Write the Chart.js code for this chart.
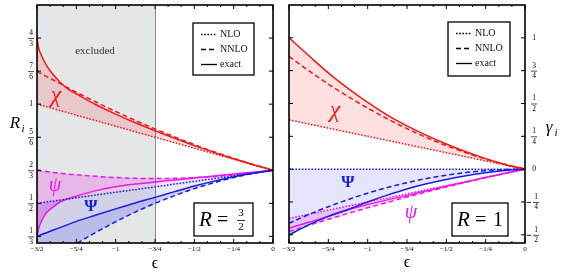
<!DOCTYPE html>
<html>
<head>
<meta charset="utf-8">
<script src="https://cdn.jsdelivr.net/npm/chart.js@4.4.0/dist/chart.umd.min.js"></script>
<style>
  html, body { margin: 0; padding: 0; background: #fff; }
  #wrap { position: relative; width: 569px; height: 278px; }
  canvas { position: absolute; top: 0; }
  #left { left: 0; }
  #right { left: 281px; }
</style>
</head>
<body>
<div id="wrap">
  <canvas id="left" width="281" height="278"></canvas>
  <canvas id="right" width="288" height="278"></canvas>
</div>
<script>
// ---------- DATA: LEFT PANEL (R = 3/2), ratios R_i ----------
const epsL = [-1.5, -1.49, -1.47, -1.44, -1.4, -1.35, -1.3, -1.25, -1.125, -1, -0.875, -0.75, -0.625, -0.5, -0.375, -0.25, -0.125, 0];

const chiNloL = [1.0, 0.998, 0.993, 0.987, 0.978, 0.967, 0.956, 0.944, 0.917, 0.889, 0.861, 0.833, 0.806, 0.778, 0.75, 0.722, 0.694, 0.667];
const chiNnloL = [1.167, 1.162, 1.153, 1.14, 1.123, 1.102, 1.081, 1.06, 1.011, 0.963, 0.918, 0.875, 0.835, 0.796, 0.76, 0.727, 0.696, 0.667];
const chiExactL = [1.333, 1.285, 1.243, 1.195, 1.152, 1.108, 1.075, 1.052, 0.997, 0.95, 0.906, 0.866, 0.828, 0.791, 0.757, 0.725, 0.695, 0.667];

// NLO of psi and Psi coincide here (blue dotted)
const PsiNloL = [0.5, 0.501, 0.503, 0.507, 0.511, 0.517, 0.522, 0.528, 0.542, 0.556, 0.569, 0.583, 0.597, 0.611, 0.625, 0.639, 0.653, 0.667];
const PsiNnloL = [0.167, 0.172, 0.183, 0.2, 0.221, 0.247, 0.272, 0.296, 0.354, 0.407, 0.456, 0.5, 0.539, 0.574, 0.604, 0.63, 0.651, 0.667];
const PsiExactL = [0.333, 0.336, 0.343, 0.352, 0.364, 0.379, 0.394, 0.409, 0.441, 0.472, 0.502, 0.53, 0.559, 0.587, 0.612, 0.634, 0.652, 0.667];

const psiNnloL = [0.667, 0.666, 0.663, 0.66, 0.656, 0.652, 0.647, 0.644, 0.636, 0.63, 0.626, 0.625, 0.626, 0.63, 0.635, 0.644, 0.654, 0.667];
const psiExactL = [0.333, 0.372, 0.413, 0.452, 0.48, 0.508, 0.524, 0.536, 0.564, 0.584, 0.597, 0.608, 0.618, 0.628, 0.638, 0.648, 0.657, 0.667];

// ---------- DATA: RIGHT PANEL (R = 1), anomalous dimensions gamma_i ----------
const epsR = [-1.5, -1.375, -1.25, -1.125, -1, -0.875, -0.75, -0.625, -0.5, -0.375, -0.25, -0.125, 0];

const chiNloR = [0.375, 0.344, 0.3125, 0.281, 0.25, 0.219, 0.1875, 0.156, 0.125, 0.094, 0.0625, 0.031, 0];
const chiNnloR = [0.858, 0.75, 0.648, 0.553, 0.465, 0.383, 0.308, 0.24, 0.179, 0.124, 0.076, 0.035, 0];
const chiExactR = [1.0, 0.865, 0.733, 0.615, 0.508, 0.412, 0.33, 0.257, 0.191, 0.132, 0.08, 0.036, 0];

const PsiNloR = [0, 0, 0, 0, 0, 0, 0, 0, 0, 0, 0, 0, 0];
const PsiNnloR = [-0.412, -0.346, -0.286, -0.232, -0.183, -0.14, -0.103, -0.0715, -0.046, -0.026, -0.0114, -0.003, 0];
const PsiExactR = [-0.5, -0.425, -0.36, -0.307, -0.25, -0.198, -0.151, -0.112, -0.079, -0.051, -0.028, -0.011, 0];

const psiNloR = [-0.375, -0.344, -0.3125, -0.281, -0.25, -0.219, -0.1875, -0.156, -0.125, -0.094, -0.0625, -0.031, 0];
const psiNnloR = [-0.475, -0.428, -0.382, -0.3375, -0.294, -0.253, -0.2125, -0.174, -0.136, -0.1, -0.065, -0.032, 0];
const psiExactR = [-0.45, -0.405, -0.36, -0.31, -0.27, -0.234, -0.2, -0.165, -0.131, -0.097, -0.064, -0.032, 0];

// ---------- TICKS ----------
const xTicks = [-1.5, -1.25, -1, -0.75, -0.5, -0.25, 0];
const xTickLabels = ["\u22123/2", "\u22125/4", "\u22121", "\u22123/4", "\u22121/2", "\u22121/4", "0"];
const yTicksL = [4 / 3, 7 / 6, 1, 5 / 6, 2 / 3, 1 / 2, 1 / 3];
const yTickLabelsL = ["4/3", "7/6", "1", "5/6", "2/3", "1/2", "1/3"];
const yTicksR = [1, 0.75, 0.5, 0.25, 0, -0.25, -0.5];
const yTickLabelsR = ["1", "3/4", "1/2", "1/4", "0", "\u22121/4", "\u22121/2"];

// ---------- COLORS ----------
const RED = "#f01818";
const BLUE = "#1a1ae8";
const MAG = "#ec16e6";
const DOT = [1.6, 1.6];
const DASH = [5, 3];
const SERIF = "'Liberation Serif', 'DejaVu Serif', serif";

// ---------- HELPERS ----------
function pts(eps, vals) {
  return eps.map((e, i) => ({ x: e, y: vals[i] }));
}

function line(eps, vals, color, dash, fill) {
  return {
    data: pts(eps, vals),
    borderColor: color,
    borderWidth: 1.5,
    borderDash: dash,
    pointRadius: 0,
    cubicInterpolationMode: "monotone",
    fill: fill || false,
  };
}

// invisible copy of a curve, used only to shade against another curve
function shade(eps, vals, target, color) {
  return {
    data: pts(eps, vals),
    borderWidth: 0,
    borderColor: "rgba(0,0,0,0)",
    pointRadius: 0,
    cubicInterpolationMode: "monotone",
    fill: { target: target, above: color, below: color },
  };
}

function drawFrac(ctx, x, y, label) {
  let neg = false;
  if (label[0] === "\u2212") { neg = true; label = label.slice(1); x += 2; }
  ctx.font = "7.5px " + SERIF;
  ctx.textBaseline = "middle";
  ctx.textAlign = "center";
  if (label.indexOf("/") < 0) {
    ctx.fillText((neg ? "\u2212" : "") + label, x, y);
    return;
  }
  const [n, d] = label.split("/");
  ctx.fillText(n, x, y - 5);
  ctx.fillText(d, x, y + 5.5);
  ctx.beginPath();
  ctx.lineWidth = 0.7;
  ctx.moveTo(x - 3, y + 0.5);
  ctx.lineTo(x + 3, y + 0.5);
  ctx.stroke();
  if (neg) {
    ctx.lineWidth = 0.9;
    ctx.beginPath();
    ctx.moveTo(x - 9, y + 0.5);
    ctx.lineTo(x - 5, y + 0.5);
    ctx.stroke();
  }
}

// ---------- FRAME / ANNOTATION PLUGIN ----------
const framePlugin = {
  id: "frame",
  beforeDraw(chart, args, opts) {
    if (opts.excludedTo === undefined) return;
    const { ctx, chartArea: a } = chart;
    const xe = chart.scales.x.getPixelForValue(opts.excludedTo);
    ctx.save();
    ctx.fillStyle = "#e5e6e8";
    ctx.fillRect(a.left, a.top, xe - a.left, a.bottom - a.top);
    ctx.strokeStyle = "#8c8c8c";
    ctx.lineWidth = 1;
    ctx.beginPath();
    ctx.moveTo(xe + 0.5, a.top);
    ctx.lineTo(xe + 0.5, a.bottom);
    ctx.stroke();
    ctx.restore();
  },
  afterDraw(chart, args, opts) {
    const { ctx, chartArea: a } = chart;
    const xs = chart.scales.x;
    const ys = chart.scales.y;
    ctx.save();
    ctx.strokeStyle = "#000";
    ctx.fillStyle = "#000";

    // frame
    ctx.lineWidth = 1.6;
    ctx.strokeRect(a.left, a.top, a.right - a.left, a.bottom - a.top);

    // x ticks (major + minor) on top and bottom
    ctx.lineWidth = 1;
    for (let k = -18; k <= 0; k++) {
      const v = k / 12;
      const px = xs.getPixelForValue(v);
      const major = k % 3 === 0;
      const len = major ? 4 : 2;
      ctx.beginPath();
      ctx.moveTo(px, a.bottom); ctx.lineTo(px, a.bottom - len);
      ctx.moveTo(px, a.top); ctx.lineTo(px, a.top + len);
      ctx.stroke();
    }
    ctx.font = "7px " + SERIF;
    ctx.textAlign = "center";
    ctx.textBaseline = "middle";
    xTicks.forEach((v, i) => {
      ctx.fillText(xTickLabels[i], xs.getPixelForValue(v), a.bottom + 6.5);
    });

    // y ticks on both sides
    opts.yTicks.forEach((v, i) => {
      const py = ys.getPixelForValue(v);
      ctx.lineWidth = 1;
      ctx.beginPath();
      ctx.moveTo(a.left, py); ctx.lineTo(a.left + 4, py);
      ctx.moveTo(a.right, py); ctx.lineTo(a.right - 4, py);
      ctx.stroke();
      const lx = opts.labelSide === "left" ? a.left - 6 : a.right + 9;
      drawFrac(ctx, lx, py, opts.yLabels[i]);
    });

    // legend box
    const lg = opts.legend;
    ctx.fillStyle = "#fff";
    ctx.fillRect(lg.x, lg.y, lg.w, lg.h);
    ctx.lineWidth = 1.3;
    ctx.strokeRect(lg.x, lg.y, lg.w, lg.h);
    const rows = [["NLO", DOT], ["NNLO", DASH], ["exact", []]];
    rows.forEach((r, i) => {
      const ry = lg.y + 11.5 + i * 15;
      ctx.setLineDash(r[1]);
      ctx.lineWidth = 1.3;
      ctx.beginPath();
      ctx.moveTo(lg.x + 8, ry);
      ctx.lineTo(lg.x + 24, ry);
      ctx.stroke();
      ctx.setLineDash([]);
      ctx.fillStyle = "#111";
      ctx.font = "10px " + SERIF;
      ctx.textAlign = "left";
      ctx.fillText(r[0], lg.x + 27, ry);
    });

    // R box
    const rb = opts.rbox;
    ctx.fillStyle = "#fff";
    ctx.fillRect(rb.x, rb.y, rb.w, rb.h);
    ctx.lineWidth = 1.3;
    ctx.strokeRect(rb.x, rb.y, rb.w, rb.h);
    ctx.fillStyle = "#000";
    const my = rb.y + rb.h / 2 + 1;
    ctx.textAlign = "left";
    ctx.font = "italic 21px " + SERIF;
    ctx.fillText("R", rb.x + 5, my);
    ctx.font = "20px " + SERIF;
    ctx.fillText("=", rb.x + 23, my);
    if (rb.frac) {
      ctx.font = "11px " + SERIF;
      ctx.textAlign = "center";
      ctx.fillText("3", rb.x + 47, my - 7);
      ctx.fillText("2", rb.x + 47, my + 7);
      ctx.lineWidth = 0.8;
      ctx.beginPath();
      ctx.moveTo(rb.x + 43, my);
      ctx.lineTo(rb.x + 51, my);
      ctx.stroke();
    } else {
      ctx.fillText("1", rb.x + 41, my);
    }

    // curve and axis labels
    opts.texts.forEach((t) => {
      ctx.fillStyle = t.color || "#000";
      ctx.font = t.font;
      ctx.textAlign = "center";
      ctx.textBaseline = "middle";
      ctx.fillText(t.text, t.x, t.y);
      if (t.sub) {
        ctx.font = "italic 11px " + SERIF;
        ctx.fillText(t.sub, t.x + t.subDx, t.y + 5);
      }
    });
    ctx.restore();
  },
};

function baseOptions(yMin, yMax, padLeft, padRight, frameOpts) {
  return {
    responsive: false,
    animation: false,
    layout: { padding: { left: padLeft, right: padRight, top: 5, bottom: 35 } },
    scales: {
      x: { type: "linear", min: -1.5, max: 0, display: false },
      y: { type: "linear", min: yMin, max: yMax, display: false },
    },
    plugins: {
      legend: { display: false },
      tooltip: { enabled: false },
      filler: { drawTime: "beforeDatasetsDraw" },
      frame: frameOpts,
    },
  };
}

// ---------- LEFT CHART ----------
new Chart(document.getElementById("left"), {
  type: "line",
  data: {
    datasets: [
      line(epsL, chiNloL, RED, DOT),                                   // 0
      line(epsL, chiNnloL, RED, DASH),                                 // 1
      line(epsL, chiExactL, RED, [], { target: 0, above: "rgba(255,0,0,0.13)", below: "rgba(255,0,0,0.13)" }), // 2
      line(epsL, PsiNloL, BLUE, DOT),                                  // 3
      line(epsL, PsiNnloL, BLUE, DASH),                                // 4
      line(epsL, PsiExactL, BLUE, [], { target: 3, above: "rgba(40,40,230,0.1)", below: "rgba(40,40,230,0.1)" }), // 5
      shade(epsL, PsiExactL, 4, "rgba(40,40,230,0.22)"),               // 6
      line(epsL, psiNnloL, MAG, DASH),                                 // 7
      line(epsL, psiExactL, MAG, [], { target: 7, above: "rgba(230,0,230,0.2)", below: "rgba(230,0,230,0.2)" }), // 8
      shade(epsL, psiExactL, 3, "rgba(230,0,230,0.12)"),               // 9
    ],
  },
  options: baseOptions(0.3, 1.5, 37, 8, {
    excludedTo: -0.75,
    yTicks: yTicksL,
    yLabels: yTickLabelsL,
    labelSide: "left",
    legend: { x: 193, y: 23, w: 61, h: 52 },
    rbox: { x: 194, y: 203, w: 59, h: 33, frac: true },
    texts: [
      { text: "excluded", x: 95, y: 51, font: "11px " + SERIF, color: "#333" },
      { text: "\u03c7", x: 56, y: 96, font: "italic 24px " + SERIF, color: RED },
      { text: "\u03c8", x: 55, y: 186, font: "italic 20px " + SERIF, color: MAG },
      { text: "\u03a8", x: 91, y: 207, font: "bold 17px " + SERIF, color: BLUE },
      { text: "R", x: 15, y: 124, font: "italic 17px " + SERIF, sub: "i", subDx: 8 },
      { text: "\u03f5", x: 155, y: 264, font: "16px " + SERIF },
    ],
  }),
  plugins: [framePlugin],
});

// ---------- RIGHT CHART ----------
new Chart(document.getElementById("right"), {
  type: "line",
  data: {
    datasets: [
      line(epsR, chiNloR, RED, DOT),                                   // 0
      line(epsR, chiNnloR, RED, DASH),                                 // 1
      line(epsR, chiExactR, RED, [], { target: 0, above: "rgba(255,0,0,0.12)", below: "rgba(255,0,0,0.12)" }), // 2
      line(epsR, PsiNloR, BLUE, DOT),                                  // 3
      line(epsR, PsiNnloR, BLUE, DASH),                                // 4
      line(epsR, PsiExactR, BLUE, [], { target: 3, above: "rgba(40,40,240,0.12)", below: "rgba(40,40,240,0.12)" }), // 5
      line(epsR, psiNloR, MAG, DOT),                                   // 6
      line(epsR, psiNnloR, MAG, DASH),                                 // 7
      line(epsR, psiExactR, MAG, [], { target: 6, above: "rgba(230,0,230,0.15)", below: "rgba(230,0,230,0.15)" }), // 8
      shade(epsR, psiExactR, 7, "rgba(230,0,230,0.15)"),               // 9
    ],
  },
  options: baseOptions(-0.5625, 1.25, 8, 44, {
    yTicks: yTicksR,
    yLabels: yTickLabelsR,
    labelSide: "right",
    legend: { x: 167, y: 22, w: 62, h: 54 },
    rbox: { x: 171, y: 203, w: 56, h: 33, frac: false },
    texts: [
      { text: "\u03c7", x: 54, y: 111, font: "italic 24px " + SERIF, color: RED },
      { text: "\u03a8", x: 67, y: 183, font: "bold 17px " + SERIF, color: BLUE },
      { text: "\u03c8", x: 130, y: 213, font: "italic 20px " + SERIF, color: MAG },
      { text: "\u03b3", x: 268, y: 128, font: "italic 17px " + SERIF, sub: "i", subDx: 7 },
      { text: "\u03f5", x: 126, y: 263, font: "16px " + SERIF },
    ],
  }),
  plugins: [framePlugin],
});
</script>
</body>
</html>
